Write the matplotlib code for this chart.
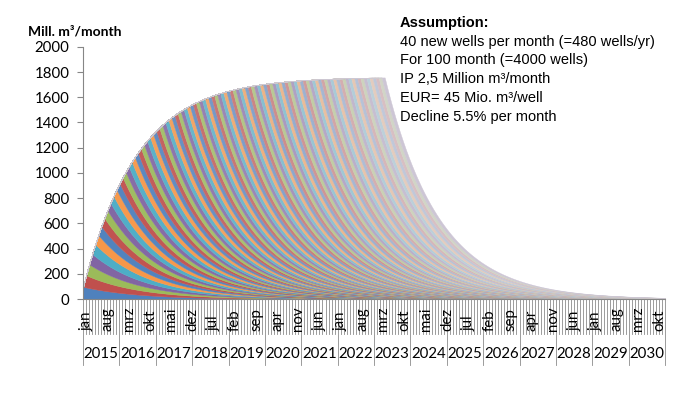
import numpy as np
import matplotlib
matplotlib.use('Agg')
import matplotlib.pyplot as plt
from matplotlib.colors import to_rgb

# ---------------------------------------------------------------
# data (read off the chart / its assumption box)
# ---------------------------------------------------------------
months_de = ['jan', 'feb', 'mrz', 'apr', 'mai', 'jun', 'jul', 'aug', 'sep', 'okt', 'nov', 'dez']
years = [2015, 2016, 2017, 2018, 2019, 2020, 2021, 2022,
         2023, 2024, 2025, 2026, 2027, 2028, 2029, 2030]
label_step = 7             # every 7th month is labelled
n_cohorts = 100            # 100 months of drilling
cohort_first_month = 97.   # Mill. m3/month of one 40-well cohort in its first month
decline = 0.055            # per month
yticks = [0, 200, 400, 600, 800, 1000, 1200, 1400, 1600, 1800, 2000]
notes = ['40 new wells per month (=480 wells/yr)',
         'For 100 month (=4000 wells)',
         'IP 2,5 Million m\u00b3/month',
         'EUR= 45 Mio. m\u00b3/well',
         'Decline 5.5% per month']

n_months = len(years) * 12
t = np.arange(n_months)
prod = np.zeros((n_cohorts, n_months))
for c in range(n_cohorts):
    age = t[c:] - c
    prod[c, c:] = cohort_first_month * (1 - decline) ** age

# excel-like colour cycle, getting paler/greyer for later cohorts
base = ['#4F81BD', '#C0504D', '#9BBB59', '#8064A2', '#4BACC6', '#F79646']
grey = np.array([0.87, 0.86, 0.88])
cols = []
for c in range(n_cohorts):
    f = (c / (n_cohorts - 1)) ** 1.3 * 0.82
    rgb = np.array(to_rgb(base[c % 6]))
    cols.append(tuple(rgb * (1 - f) + grey * f))

# ---------------------------------------------------------------
fig = plt.figure(figsize=(6.98, 3.99), dpi=100)
ax = fig.add_axes([0.119, 0.2506, 0.8337, 0.632])

bottom = np.zeros(n_months)
for c in range(n_cohorts):
    top = bottom + prod[c]
    ax.fill_between(t, bottom, top, color=cols[c], lw=0.3, edgecolor=cols[c])
    bottom = top

ax.set_xlim(0, n_months - 1)
ax.set_ylim(0, 2000)
ax.set_yticks(yticks)
ax.set_yticklabels([str(v) for v in yticks], fontfamily='Lato', fontsize=10.8)
ax.tick_params(axis='y', direction='out', length=4.3, color='#868686', pad=5.5)
ax.set_xticks([])
for s in ['top', 'right']:
    ax.spines[s].set_visible(False)
for s in ['left', 'bottom']:
    ax.spines[s].set_color('#868686')
    ax.spines[s].set_linewidth(0.8)
    ax.spines[s].set_zorder(5)

# multi-level category axis drawn by hand (axes fraction coords)
tc = '#8C8C8C'
for k in range(n_months + 1):
    xf = k / n_months
    yb = -0.262 if k % 12 == 0 else -0.138
    ax.plot([xf, xf], [0, yb], transform=ax.transAxes, color=tc, lw=0.6, clip_on=False)
for k in range(0, n_months, label_step):
    ax.text((k + 0.5) / n_months + 0.003, -0.127, months_de[k % 12], transform=ax.transAxes,
            rotation=90, ha='center', va='bottom', fontfamily='Lato', fontsize=10.8)
for i, yr in enumerate(years):
    ax.text((i + 0.5) / len(years), -0.218, str(yr), transform=ax.transAxes,
            ha='center', va='center', fontfamily='Lato', fontsize=10.8)

fig.text(75 / 698, 1 - 31 / 399, 'Mill. m\u00b3/month', ha='center', va='center',
         fontfamily='Lato', fontweight='bold', fontsize=10)

fig.text(400 / 698, 1 - 23 / 399, 'Assumption:', ha='left', va='center',
         fontfamily='Liberation Sans', fontweight='bold', fontsize=10.5)
for i, s in enumerate(notes):
    fig.text(400 / 698, 1 - (41.7 + i * 18.75) / 399, s, ha='left', va='center',
             fontfamily='Liberation Sans', fontsize=10.5)

plt.savefig('out.png', dpi=100)
